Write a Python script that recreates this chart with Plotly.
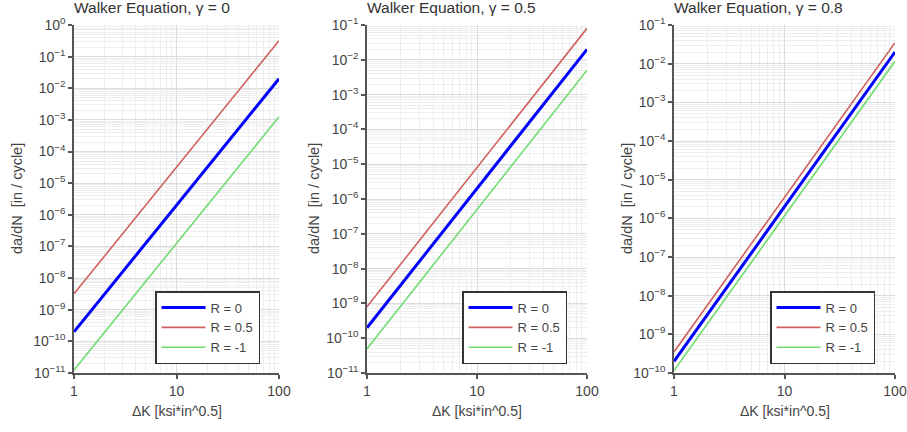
import plotly.graph_objects as go

# ---- data ----
delta_k = [1, 100]                      # ΔK endpoints [ksi*in^0.5]
gammas = ["0", "0.5", "0.8"]
series_names = ["R = 0", "R = 0.5", "R = -1"]

# da/dN at ΔK = 1 and ΔK = 100 for each panel (straight lines on log-log)
g0_r0 = [2.0e-10, 2.0e-2]
g0_r05 = [3.2e-9, 3.2e-1]
g0_rm1 = [1.25e-11, 1.25e-3]

g05_r0 = [2.0e-10, 2.0e-2]
g05_r05 = [8.0e-10, 8.0e-2]
g05_rm1 = [5.0e-11, 5.0e-3]

g08_r0 = [2.0e-10, 2.0e-2]
g08_r05 = [3.5e-10, 3.5e-2]
g08_rm1 = [1.15e-10, 1.15e-2]

panel_values = [
    [g0_r0, g0_r05, g0_rm1],
    [g05_r0, g05_r05, g05_rm1],
    [g08_r0, g08_r05, g08_rm1],
]
y_exp_ranges = [(-11, 0), (-11, -1), (-10, -1)]
x_tick_vals = [1, 10, 100]
x_tick_text = ["1", "10", "100"]

# ---- styling ----
W, H = 907, 432
FONT = "Liberation Sans, Arial, sans-serif"
TXT = "#444444"
line_colors = ["#0000ff", "#d0605e", "#6fdc6f"]
line_widths = [3, 1.6, 1.6]

x_px = [(74, 279), (367, 587), (674, 895)]
y_px = (25, 373)
legend_px = [(155, 291), (462, 291), (770, 291)]
ylab_px = [17, 314, 627]

def px_x(v):
    return v / W

def px_y(v):
    return 1 - v / H

fig = go.Figure()
layout = dict(
    width=W, height=H,
    margin=dict(l=0, r=0, t=0, b=0, autoexpand=False),
    paper_bgcolor="white", plot_bgcolor="white",
    font=dict(family=FONT, color=TXT, size=14),
    annotations=[],
)

for i in range(3):
    sfx = "" if i == 0 else str(i + 1)
    xa, ya = "x" + sfx, "y" + sfx
    leg = "legend" if i == 0 else "legend" + str(i + 1)
    for j in range(3):
        fig.add_trace(go.Scatter(
            x=delta_k, y=panel_values[i][j], mode="lines",
            name=series_names[j],
            line=dict(color=line_colors[j], width=line_widths[j]),
            xaxis=xa, yaxis=ya, legend=leg, showlegend=True,
        ))
    lo, hi = y_exp_ranges[i]
    ytv = [10.0 ** e for e in range(lo, hi + 1)]
    ytt = ["10<sup>%s</sup>" % (str(e).replace("-", "\u2212")) for e in range(lo, hi + 1)]
    common = dict(
        type="log", automargin=False,
        showline=True, linecolor="#555555", linewidth=1.5,
        ticks="outside", ticklen=4, tickcolor="#555555", tickwidth=1.5,
        showgrid=True, gridcolor="#dcdcdc", gridwidth=1,
        minor=dict(dtick="D1", showgrid=True, gridcolor="#eeeeee", gridwidth=1, ticks=""),
        tickfont=dict(size=14, color=TXT, family=FONT),
        zeroline=False, mirror=False,
    )
    layout["xaxis" + sfx] = dict(
        range=[0, 2],
        domain=[px_x(x_px[i][0]), px_x(x_px[i][1])],
        anchor=ya,
        tickmode="array", tickvals=x_tick_vals, ticktext=x_tick_text,
        **common,
    )
    layout["yaxis" + sfx] = dict(
        range=[lo, hi],
        domain=[px_y(y_px[1]), px_y(y_px[0])],
        anchor=xa,
        tickmode="array", tickvals=ytv, ticktext=ytt,
        **common,
    )
    layout[leg] = dict(
        x=px_x(legend_px[i][0]), y=px_y(legend_px[i][1]),
        xanchor="left", yanchor="top",
        bgcolor="white", bordercolor="#333333", borderwidth=1.5,
        font=dict(size=13, color=TXT, family=FONT),
        itemwidth=44,
    )
    # panel title (left aligned to plot area)
    layout["annotations"].append(dict(
        text="Walker Equation, \u03b3 = " + gammas[i],
        xref="paper", yref="paper",
        x=px_x(x_px[i][0] - 2), y=px_y(8), xanchor="left", yanchor="middle",
        showarrow=False, font=dict(size=15.5, color="#333333", family=FONT),
    ))
    # x-axis title
    layout["annotations"].append(dict(
        text="\u0394K [ksi*in^0.5]",
        xref="paper", yref="paper",
        x=px_x((x_px[i][0] + x_px[i][1]) / 2), y=px_y(411),
        xanchor="center", yanchor="middle",
        showarrow=False, font=dict(size=14, color=TXT, family=FONT),
    ))
    # y-axis title
    layout["annotations"].append(dict(
        text="da/dN  [in / cycle]",
        xref="paper", yref="paper",
        x=px_x(ylab_px[i]), y=px_y((y_px[0] + y_px[1]) / 2),
        xanchor="center", yanchor="middle", textangle=-90,
        showarrow=False, font=dict(size=14.5, color=TXT, family=FONT),
    ))

fig.update_layout(**layout)
fig.write_html(
    "out.html",
    config={"displayModeBar": False},
    post_script="document.body.style.margin='0';document.body.style.overflow='hidden';",
)
